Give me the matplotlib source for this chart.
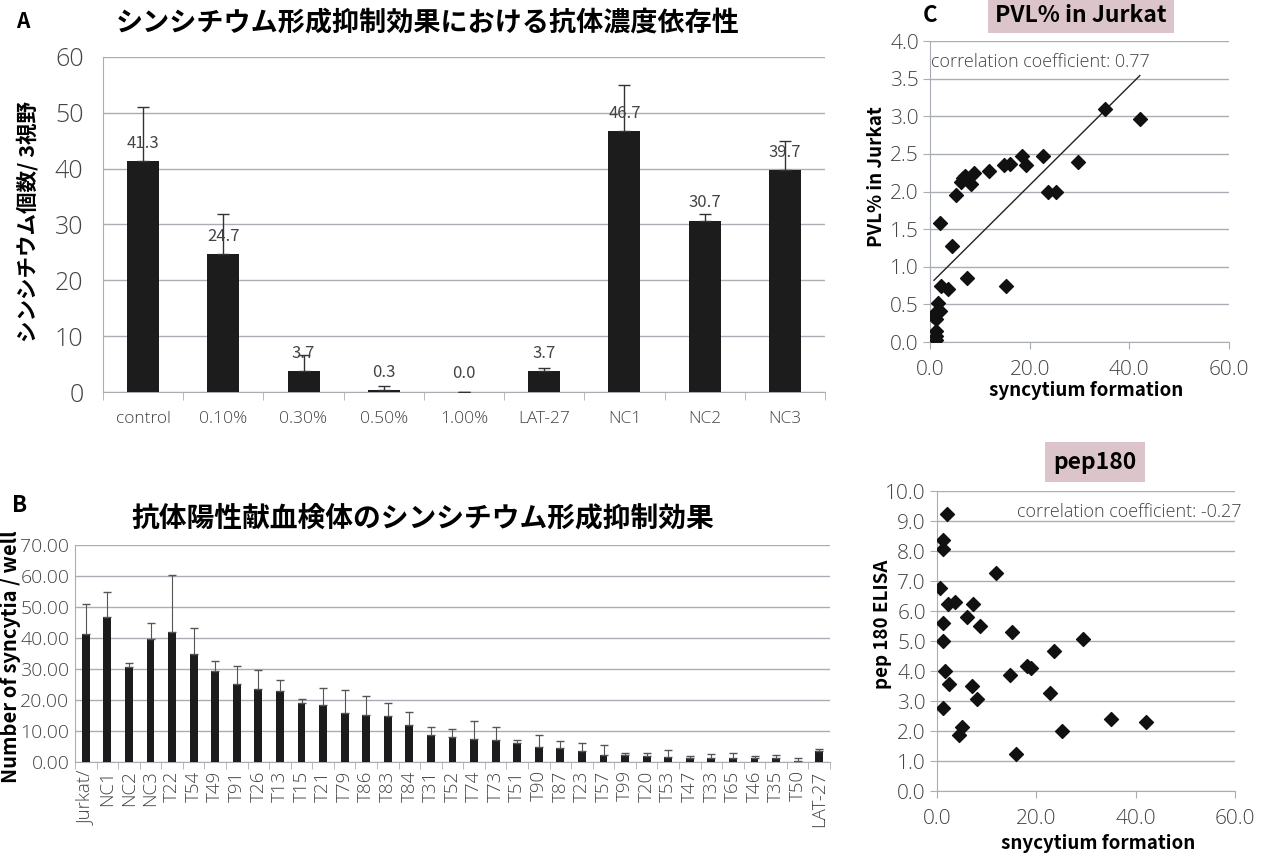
import matplotlib
matplotlib.use("Agg")
import matplotlib.pyplot as plt
import numpy as np

plt.rcParams['font.family'] = ['Noto Sans CJK JP', 'DejaVu Sans']

## DATA ###
# panel A
a_labels = ['control', '0.10%', '0.30%', '0.50%', '1.00%', 'LAT-27', 'NC1', 'NC2', 'NC3']
a_values = [41.3, 24.7, 3.7, 0.3, 0.0, 3.7, 46.7, 30.7, 39.7]
a_err = [9.8, 7.1, 2.9, 0.7, 0.0, 0.6, 8.2, 1.2, 5.3]

# panel B
b_labels = ['Jurkat/', 'NC1', 'NC2', 'NC3', 'T22', 'T54', 'T49', 'T91', 'T26', 'T13',
            'T15', 'T21', 'T79', 'T86', 'T83', 'T84', 'T31', 'T52', 'T74', 'T73',
            'T51', 'T90', 'T87', 'T23', 'T57', 'T99', 'T20', 'T53', 'T47', 'T33',
            'T65', 'T46', 'T35', 'T50', 'LAT-27']
b_values = [41.3, 46.7, 30.7, 39.7, 41.8, 34.9, 29.2, 25.1, 23.5, 22.8,
            19.0, 18.5, 15.8, 15.1, 14.9, 11.8, 8.6, 8.1, 7.3, 7.0,
            6.0, 4.8, 4.5, 3.7, 2.4, 2.4, 1.8, 1.6, 1.3, 1.3,
            1.3, 1.3, 1.3, 0.4, 3.7]
b_err = [9.7, 8.3, 1.2, 5.1, 18.5, 8.2, 3.4, 6.0, 6.3, 3.8,
         1.2, 5.5, 7.5, 6.1, 4.0, 4.2, 2.7, 2.7, 5.9, 4.4,
         1.1, 3.8, 2.2, 2.5, 3.1, 0.6, 1.2, 2.2, 0.6, 1.2,
         1.7, 0.6, 1.1, 0.9, 0.6]

# panel C: syncytium formation vs PVL% in Jurkat
c_x = [35.1, 42.1, 29.6, 22.7, 18.4, 19.2, 14.9, 16.1, 11.8, 8.8, 7.0, 6.7, 6.2, 8.2,
       5.2, 23.7, 25.3, 2.0, 4.5, 7.4, 15.2, 2.3, 3.7, 1.7, 0.7, 2.0, 1.3, 1.0,
       1.3, 1.3, 1.3]
c_y = [3.09, 2.97, 2.39, 2.47, 2.47, 2.35, 2.35, 2.36, 2.27, 2.24, 2.21, 2.18, 2.12, 2.10,
       1.96, 1.99, 1.99, 1.58, 1.28, 0.85, 0.74, 0.75, 0.70, 0.52, 0.35, 0.41, 0.30, 0.38,
       0.14, 0.08, 0.02]
c_fit_x = [0.8, 42.1]
c_fit_y = [0.82, 3.54]

# panel D: syncytium formation vs pep180 ELISA
d_x = [2.1, 1.3, 1.3, 11.8, 0.7, 2.3, 3.7, 7.3, 6.1, 1.3, 8.7, 15.2, 1.3, 29.3, 23.5,
       1.7, 18.2, 19.0, 14.7, 2.4, 7.0, 8.1, 22.7, 1.3, 35.0, 42.0, 5.1, 4.5, 25.1, 15.9]
d_y = [9.24, 8.38, 8.06, 7.28, 6.78, 6.22, 6.30, 6.22, 5.80, 5.61, 5.49, 5.29, 5.00, 5.06, 4.66,
       3.99, 4.18, 4.09, 3.86, 3.57, 3.50, 3.06, 3.27, 2.77, 2.41, 2.30, 2.13, 1.88, 1.99, 1.23]
###########

W, H = 1272, 855
GRID = '#a9aeb5'
TXT = '#444444'
LIGHT = ['Open Sans', 'DejaVu Sans']


def rect(x0, y0, x1, y1):
    # pixel box -> figure fraction
    return [x0 / W, 1 - y1 / H, (x1 - x0) / W, (y1 - y0) / H]


def pos(x, y):
    return x / W, 1 - y / H


def style_axes(ax):
    for s in ['top', 'right']:
        ax.spines[s].set_visible(False)
    for s in ['left', 'bottom']:
        ax.spines[s].set_color(GRID)
    ax.yaxis.grid(True, color=GRID, linewidth=1)
    ax.set_axisbelow(True)
    ax.tick_params(colors=GRID, labelcolor=TXT)


def light_ticks(ax, size):
    for lab in ax.get_xticklabels() + ax.get_yticklabels():
        lab.set_family(LIGHT)
        lab.set_fontweight('light')
        lab.set_fontsize(size)


fig = plt.figure(figsize=(W / 100, H / 100), dpi=100)

# ---------------- A ----------------
ax = fig.add_axes(rect(103, 57, 825, 392))
style_axes(ax)
xa = np.arange(len(a_labels))
ax.bar(xa, a_values, width=0.4, color='#1c1c1c', zorder=3)
ax.errorbar(xa, a_values, yerr=[np.zeros(len(a_err)), a_err], fmt='none',
            ecolor='#333333', elinewidth=1, capsize=4, zorder=4)
for i, v in enumerate(a_values):
    ax.annotate(f'{v:.1f}', (i, v), xytext=(0, 13), textcoords='offset points',
                ha='center', va='center', fontsize=12, color=TXT, zorder=5)
ax.set_xlim(-0.5, len(a_labels) - 0.5)
ax.set_ylim(0, 60)
ax.set_yticks(range(0, 61, 10))
ax.set_xticks(xa)
ax.set_xticklabels(a_labels, fontsize=12.5)
ax.set_yticklabels([str(t) for t in range(0, 61, 10)])
light_ticks(ax, 18)
for lab in ax.get_xticklabels():
    lab.set_fontsize(12.5)
ax.set_xticks(np.arange(-0.5, len(a_labels), 1), minor=True)
ax.tick_params(axis='x', which='major', length=0, pad=14)
ax.tick_params(axis='x', which='minor', length=6, direction='out', colors=GRID)
ax.tick_params(axis='y', length=0, pad=14)
fig.text(*pos(16, 22), 'A', fontsize=15, fontweight='bold', va='center', ha='left')
fig.text(*pos(428, 22), 'シンシチウム形成抑制効果における抗体濃度依存性', fontsize=19.5,
         fontweight='bold', ha='center', va='center')
fig.text(*pos(28, 221), 'シンシチウム個数/ 3視野', fontsize=15.5, fontweight='bold',
         rotation=90, ha='center', va='center')

# ---------------- B ----------------
ax = fig.add_axes(rect(75, 545, 830, 762))
style_axes(ax)
xb = np.arange(len(b_labels))
ax.bar(xb, b_values, width=0.37, color='#1c1c1c', zorder=3)
ax.errorbar(xb, b_values, yerr=[np.zeros(len(b_err)), b_err], fmt='none',
            ecolor='#555555', elinewidth=0.8, capsize=3, zorder=4)
ax.set_xlim(-0.5, len(b_labels) - 0.5)
ax.set_ylim(0, 70)
ax.set_yticks(range(0, 71, 10))
ax.set_yticklabels([f'{t:.2f}' for t in range(0, 71, 10)])
ax.set_xticks(xb)
ax.set_xticklabels(b_labels, rotation=90)
light_ticks(ax, 14)
for lab in ax.get_xticklabels():
    lab.set_fontsize(13.5)
ax.set_xticks(np.arange(-0.5, len(b_labels), 1), minor=True)
ax.tick_params(axis='x', which='major', length=0, pad=6)
ax.tick_params(axis='x', which='minor', length=5, direction='out', colors=GRID)
ax.tick_params(axis='y', length=0, pad=4)
fig.text(*pos(12, 505), 'B', fontsize=16, fontweight='bold', va='center', ha='left')
fig.text(*pos(423, 518), '抗体陽性献血検体のシンシチウム形成抑制効果', fontsize=20,
         fontweight='bold', ha='center', va='center')
fig.text(*pos(11, 657), 'Number of syncytia / well', fontsize=14.5, fontweight='bold',
         rotation=90, ha='center', va='center')

# ---------------- C ----------------
ax = fig.add_axes(rect(930, 41, 1229, 342))
style_axes(ax)
ax.scatter(c_x, c_y, marker='D', s=50, color='#111111', zorder=4)
ax.plot(c_fit_x, c_fit_y, color='#222222', linewidth=1, zorder=3)
ax.set_xlim(0, 60)
ax.set_ylim(0, 4)
ax.set_xticks([0, 20, 40, 60])
ax.set_xticklabels(['0.0', '20.0', '40.0', '60.0'])
ax.set_yticks(np.arange(0, 4.01, 0.5))
ax.set_yticklabels([f'{t:.1f}' for t in np.arange(0, 4.01, 0.5)])
light_ticks(ax, 15)
ax.tick_params(axis='x', length=5, direction='out', pad=8)
ax.tick_params(axis='y', length=5, direction='out', pad=3)
ax.text(0.2, 3.72, 'correlation coefficient: 0.77', fontsize=13, color=TXT,
        family=LIGHT, fontweight='light', ha='left', va='center')
fig.text(*pos(930, 15), 'C', fontsize=16, fontweight='bold', ha='center', va='center')
fig.text(*pos(1081, 15), 'PVL% in Jurkat', fontsize=16.5, fontweight='bold', ha='center',
         va='center', bbox=dict(boxstyle='square,pad=0.3', facecolor='#dcc4cb',
                                edgecolor='none'))
fig.text(*pos(1086, 390), 'syncytium formation', fontsize=13.5, fontweight='bold',
         ha='center', va='center')
fig.text(*pos(876, 177), 'PVL% in Jurkat', fontsize=13.5, fontweight='bold',
         rotation=90, ha='center', va='center')

# ---------------- D ----------------
ax = fig.add_axes(rect(937, 491, 1235, 791))
style_axes(ax)
ax.scatter(d_x, d_y, marker='D', s=50, color='#111111', zorder=4)
ax.set_xlim(0, 60)
ax.set_ylim(0, 10)
ax.set_xticks([0, 20, 40, 60])
ax.set_xticklabels(['0.0', '20.0', '40.0', '60.0'])
ax.set_yticks(range(0, 11))
ax.set_yticklabels([f'{t:.1f}' for t in range(0, 11)])
light_ticks(ax, 15)
ax.tick_params(axis='x', length=5, direction='out', pad=8)
ax.tick_params(axis='y', length=5, direction='out', pad=3)
ax.text(16.2, 9.3, 'correlation coefficient: -0.27', fontsize=13, color=TXT,
        family=LIGHT, fontweight='light', ha='left', va='center', clip_on=False)
fig.text(*pos(1095, 462), 'pep180', fontsize=16.5, fontweight='bold', ha='center',
         va='center', bbox=dict(boxstyle='square,pad=0.35', facecolor='#dcc4cb',
                                edgecolor='none'))
fig.text(*pos(1098, 843), 'snycytium formation', fontsize=13.5, fontweight='bold',
         ha='center', va='center')
fig.text(*pos(882, 624), 'pep 180 ELISA', fontsize=13.5, fontweight='bold',
         rotation=90, ha='center', va='center')

fig.savefig('out.png', dpi=100)
